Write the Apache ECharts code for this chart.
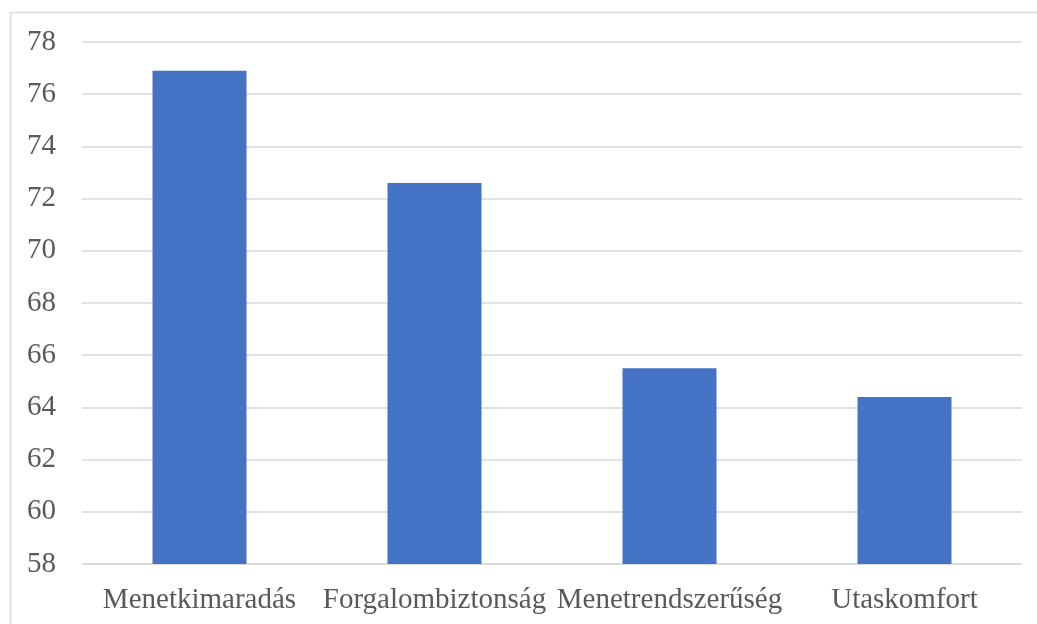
<!DOCTYPE html>
<html>
<head>
<meta charset="utf-8">
<script src="https://cdn.jsdelivr.net/npm/echarts@6/dist/echarts.min.js"></script>
<style>
  html, body { margin: 0; padding: 0; background: #ffffff; }
  #chart { width: 1037px; height: 624px; }
</style>
</head>
<body>
<div id="chart"></div>
<script>
// Categories and scores
const categories = ['Menetkimaradás', 'Forgalombiztonság', 'Menetrendszerűség', 'Utaskomfort'];
const scores = [76.9, 72.6, 65.5, 64.4];

// Value axis range
const yMin = 58;
const yMax = 78;
const yStep = 2;

const chart = echarts.init(document.getElementById('chart'), null, { renderer: 'canvas' });

const font = '"Liberation Serif", "Times New Roman", serif';

chart.setOption({
  animation: false,
  backgroundColor: '#ffffff',
  graphic: [{
    type: 'rect',
    shape: { x: 10.5, y: 12.5, width: 1100, height: 700 },
    style: { fill: 'none', stroke: '#d9d9d9', lineWidth: 1.5 },
    silent: true,
    z: -1
  }],
  grid: { left: 82, right: 15, top: 42, bottom: 60, containLabel: false },
  xAxis: {
    type: 'category',
    data: categories,
    axisLine: { show: true, lineStyle: { color: '#d9d9d9', width: 1.5 } },
    axisTick: { show: false },
    axisLabel: {
      color: '#595959',
      fontFamily: font,
      fontSize: 29,
      margin: 22,
      interval: 0
    }
  },
  yAxis: {
    type: 'value',
    min: yMin,
    max: yMax,
    interval: yStep,
    axisLine: { show: false },
    axisTick: { show: false },
    splitLine: { lineStyle: { color: '#d9d9d9', width: 1.5 } },
    axisLabel: {
      color: '#595959',
      fontFamily: font,
      fontSize: 29,
      margin: 26
    }
  },
  series: [{
    type: 'bar',
    data: scores,
    barWidth: '40%',
    itemStyle: { color: '#4472C4' }
  }]
});
</script>
</body>
</html>
